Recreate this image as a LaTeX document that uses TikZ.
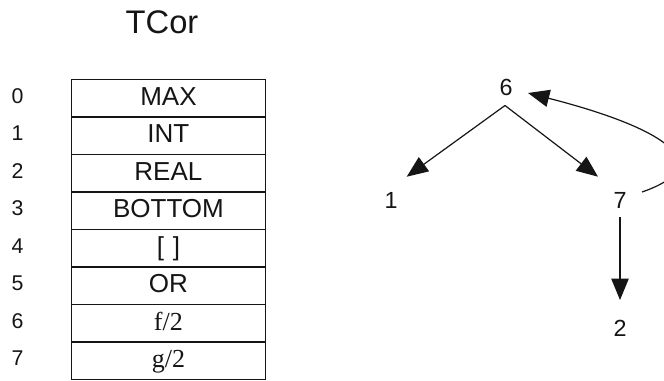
\documentclass[tikz,border=0pt]{standalone}
\usepackage{fontspec}
\setmainfont{Liberation Sans}
\newfontfamily\tmsfont{Liberation Serif}
\usetikzlibrary{arrows.meta}
\definecolor{ink}{HTML}{151515}
\begin{document}
\begin{tikzpicture}[x=0.75pt,y=-0.75pt,
  cell/.style={draw=ink, line width=1pt, minimum width=145.9pt, minimum height=28.1pt,
    inner sep=0pt, anchor=north west, text=ink, font=\fontsize{19.5}{21}\selectfont,
    text height=12.5pt, text depth=2.6pt},
  idx/.style={inner sep=0pt, text=ink, font=\fontsize{16}{19}\selectfont,
    text height=10.5pt, text depth=2.6pt},
  vert/.style={inner sep=0pt, text=ink, font=\fontsize{17.5}{20}\selectfont},
  arr/.style={draw=ink, line width=0.9pt, -{Triangle[length=16pt, width=13pt]}},
  ttl/.style={inner sep=0pt, text=ink, font=\fontsize{24.5}{28}\selectfont}
]
\clip (0,0) rectangle (664,380);
\fill[white] (0,0) rectangle (664,380);

% title
\node[ttl] (title) at (162,22) {TCor};

% table rows with their indices
\node[cell] (r0) at (70.5,79)   {MAX};
\node[cell] (r1) at (70.5,116.5) {INT};
\node[cell] (r2) at (70.5,154)  {REAL};
\node[cell] (r3) at (70.5,191.5) {BOTTOM};
\node[cell] (r4) at (70.5,229)  {[\,\,]};
\node[cell] (r5) at (70.5,266.5) {OR};
\node[cell] (r6) at (70.5,304)  {\tmsfont f/2};
\node[cell] (r7) at (70.5,341.5) {\tmsfont g/2};

\foreach \i in {0,...,7}
  \node[idx] (i\i) at (17.5,{97.75+37.5*\i}) {\i};

% graph of terms
\node[vert] (n6) at (506,87)  {6};
\node[vert] (n1) at (391,200) {1};
\node[vert] (n7) at (620,200) {7};
\node[vert] (n2) at (620,328) {2};

\draw[arr] ([shift={(-1,18.5)}]n6.center) -- ([shift={(15.7,-23.3)}]n1.center);
\draw[arr] ([shift={(-1,18.5)}]n6.center) -- ([shift={(-22,-23.3)}]n7.center);
\draw[arr] ([shift={(0,17)}]n7.center) -- ([shift={(0,-28)}]n2.center);
\draw[arr] ([shift={(22,-8)}]n7.center) .. controls (720,165) and (665,128) .. ([shift={(22,6)}]n6.center);
\end{tikzpicture}
\end{document}
